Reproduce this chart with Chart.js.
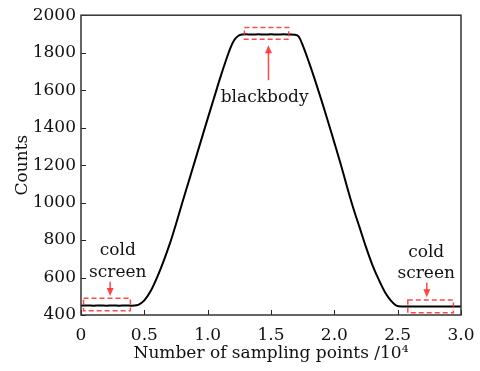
<!DOCTYPE html>
<html>
<head>
<meta charset="utf-8">
<script src="https://cdn.jsdelivr.net/npm/chart.js@4.4.0/dist/chart.umd.min.js"></script>
<style>
  html, body { margin: 0; padding: 0; background: #fff; }
  #wrap { width: 480px; height: 371px; }
</style>
</head>
<body>
<div id="wrap"><canvas id="countsChart" width="480" height="371"></canvas></div>
<script>
// Sampling point index (x 10^4) and detector counts
const samplePoints = [0, 0.05, 0.1, 0.15, 0.2, 0.25, 0.3, 0.35, 0.4, 0.44, 0.46, 0.5, 0.55, 0.6, 0.65, 0.7, 0.75, 0.8, 0.85, 0.9, 0.95, 1.0, 1.05, 1.1, 1.15, 1.18, 1.21, 1.24, 1.27, 1.3, 1.35, 1.4, 1.45, 1.5, 1.55, 1.6, 1.65, 1.69, 1.72, 1.75, 1.8, 1.85, 1.9, 1.95, 2.0, 2.05, 2.1, 2.15, 2.2, 2.25, 2.3, 2.35, 2.4, 2.45, 2.49, 2.53, 2.58, 2.63, 2.68, 2.73, 2.78, 2.83, 2.88, 2.93, 2.97, 3.0]
const counts = [450, 451, 450, 451, 450, 451, 450, 451, 450, 452, 457, 478, 528, 600, 684, 778, 886, 1000, 1112, 1224, 1336, 1448, 1558, 1668, 1770, 1826, 1868, 1889, 1897, 1898, 1897, 1898, 1897, 1898, 1897, 1898, 1897, 1896, 1885, 1840, 1748, 1648, 1543, 1433, 1320, 1206, 1085, 970, 866, 762, 668, 590, 522, 474, 450, 445, 446, 445, 446, 445, 446, 445, 446, 445, 446, 445]

// Tick settings
const xMin = 0, xMax = 3.0, xStep = 0.5
const yMin = 400, yMax = 2000, yStep = 200

// Annotation boxes (data coords): [x1, x2, yLow, yHigh]
const boxes = [
    [0.02, 0.39, 423, 489],
    [1.29, 1.64, 1872, 1934],
    [2.58, 2.94, 412, 480]
]
// Arrows (data coords): [x, yFrom, yTip]
const arrows = [
    [0.23, 578, 501],
    [1.48, 1653, 1840],
    [2.73, 573, 495]
]
// Labels (data coords): [text, x, y baseline]
const notes = [
    ['cold', 0.29, 720],
    ['screen', 0.29, 601],
    ['blackbody', 1.45, 1538],
    ['cold', 2.725, 712],
    ['screen', 2.725, 596]
]

const serif = "'DejaVu Serif', serif"
const red = 'rgba(255, 40, 40, 0.85)'

const pointsData = samplePoints.map((x, i) => ({x: x, y: counts[i]}))

// Frame, inward ticks and red annotations
const decorPlugin = {
    id: 'decor',
    afterDraw(chart) {
        const ctx = chart.ctx
        const area = chart.chartArea
        const xs = chart.scales.x
        const ys = chart.scales.y
        ctx.save()

        // inward tick marks
        ctx.strokeStyle = '#222'
        ctx.lineWidth = 1
        ctx.beginPath()
        for (let v = xMin; v <= xMax + 1e-9; v += xStep) {
            const px = Math.round(xs.getPixelForValue(v)) + 0.5
            ctx.moveTo(px, area.bottom)
            ctx.lineTo(px, area.bottom - 5)
        }
        for (let v = yMin; v <= yMax; v += yStep) {
            const py = Math.round(ys.getPixelForValue(v)) + 0.5
            ctx.moveTo(area.left, py)
            ctx.lineTo(area.left + 5, py)
        }
        ctx.stroke()

        // frame
        ctx.strokeStyle = '#333'
        ctx.lineWidth = 1.5
        ctx.strokeRect(area.left, area.top, area.right - area.left, area.bottom - area.top)

        // dashed boxes
        ctx.strokeStyle = red
        ctx.lineWidth = 1.5
        ctx.setLineDash([5, 3])
        for (const b of boxes) {
            const x1 = xs.getPixelForValue(b[0])
            const x2 = xs.getPixelForValue(b[1])
            const y1 = ys.getPixelForValue(b[3])
            const y2 = ys.getPixelForValue(b[2])
            ctx.strokeRect(x1, y1, x2 - x1, y2 - y1)
        }
        ctx.setLineDash([])

        // arrows
        ctx.fillStyle = red
        for (const a of arrows) {
            const px = xs.getPixelForValue(a[0])
            const pFrom = ys.getPixelForValue(a[1])
            const pTip = ys.getPixelForValue(a[2])
            const dir = pTip > pFrom ? 1 : -1
            ctx.beginPath()
            ctx.moveTo(px, pFrom)
            ctx.lineTo(px, pTip - dir * 6)
            ctx.stroke()
            ctx.beginPath()
            ctx.moveTo(px, pTip)
            ctx.lineTo(px - 3.5, pTip - dir * 8)
            ctx.lineTo(px + 3.5, pTip - dir * 8)
            ctx.closePath()
            ctx.fill()
        }

        // text labels
        ctx.fillStyle = '#111'
        ctx.font = '17px ' + serif
        ctx.textAlign = 'center'
        ctx.textBaseline = 'alphabetic'
        for (const n of notes) {
            ctx.fillText(n[0], xs.getPixelForValue(n[1]), ys.getPixelForValue(n[2]))
        }
        ctx.restore()
    }
}

const config = {
    type: 'line',
    data: {
        datasets: [{
            label: 'Counts',
            data: pointsData,
            borderColor: '#000',
            backgroundColor: '#000',
            borderWidth: 2,
            pointRadius: 0,
            cubicInterpolationMode: 'monotone',
            fill: false
        }]
    },
    options: {
        responsive: false,
        animation: false,
        layout: {
            padding: {top: 15, right: 19, left: 0, bottom: 0}
        },
        scales: {
            x: {
                type: 'linear',
                min: xMin,
                max: xMax,
                // invisible tick marks only used to push the labels down
                grid: {display: true, drawOnChartArea: false, drawTicks: true, tickLength: 7, color: 'rgba(0,0,0,0)'},
                border: {display: false},
                ticks: {
                    stepSize: xStep,
                    color: '#111',
                    padding: 3,
                    font: {family: serif, size: 17},
                    callback: v => v === 0 ? '0' : v.toFixed(1)
                },
                title: {
                    display: true,
                    text: 'Number of sampling points /10\u2074',
                    color: '#111',
                    font: {family: serif, size: 17},
                    padding: {top: 0, bottom: 7}
                },
                afterFit(scale) { scale.height = 56 }
            },
            y: {
                min: yMin,
                max: yMax,
                grid: {display: false, drawTicks: false},
                border: {display: false},
                ticks: {
                    stepSize: yStep,
                    color: '#111',
                    padding: 5,
                    font: {family: serif, size: 17},
                    callback: v => String(v)
                },
                title: {
                    display: true,
                    text: 'Counts',
                    color: '#111',
                    font: {family: serif, size: 17},
                    padding: {top: 12, bottom: 0}
                },
                afterFit(scale) { scale.width = 81 }
            }
        },
        plugins: {
            legend: {display: false},
            tooltip: {enabled: false}
        }
    },
    plugins: [decorPlugin]
}

const countsChart = new Chart(document.getElementById('countsChart'), config)
</script>
</body>
</html>
